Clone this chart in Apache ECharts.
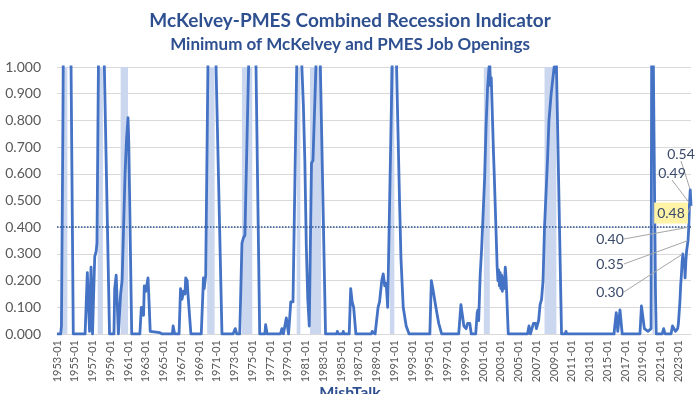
<!DOCTYPE html>
<html>
<head>
<meta charset="utf-8">
<script src="https://cdn.jsdelivr.net/npm/echarts@6/dist/echarts.min.js"></script>
<style>html,body{margin:0;padding:0;background:#fff;}#c{width:700px;height:394px;}</style>
</head>
<body>
<div id="c"></div>
<script>
// Category labels (monthly, 1953-01 .. 2024-06)
const months = [];
for (let y = 1953; y <= 2024; y++) {
  for (let m = 1; m <= 12; m++) {
    if (y === 2024 && m > 6) break;
    months.push(y + '-' + String(m).padStart(2, '0'));
  }
}

// Indicator values: [month, value]
const idx1950s = [
  ['1953-01',0],['1953-06',0],['1953-07',0.03],['1953-09',0.8],['1953-10',1.3],['1954-01',2.0],['1954-06',1.6],['1954-08',1.0],['1954-11',0],
  ['1956-03',0],['1956-06',0.23],['1956-09',0.01],['1956-11',0.25],['1957-01',0],['1957-04',0.29],['1957-06',0.31],['1957-07',0.34],['1957-09',1.0],['1957-11',1.8],['1958-03',1.8],['1958-05',1.0],['1958-12',0],
  ['1959-06',0],['1959-07',0.17],['1959-09',0.22],['1959-12',0]
];
const idx1960s = [
  ['1960-03',0.15],['1960-05',0.2],['1960-07',0.4],['1960-09',0.6],['1960-11',0.73],['1961-01',0.81],['1961-02',0.72],['1961-06',0],
  ['1962-05',0],['1962-07',0.1],['1962-10',0.07],['1962-11',0.18],['1963-01',0.16],['1963-04',0.21],['1963-05',0.15],['1963-07',0.01],['1964-08',0.005],['1964-09',0.012],['1964-11',0],
  ['1966-01',0],['1966-02',0.03],['1966-04',0],['1966-10',0],['1966-12',0.17],['1967-02',0.13],['1967-04',0.16],['1967-06',0.15],['1967-07',0.21],['1967-09',0.2],['1967-10',0.15],['1968-02',0],
  ['1969-04',0],['1969-07',0.21],['1969-08',0.17],['1969-10',0.22],['1970-01',1.0],['1970-05',2.2],['1970-09',2.0],['1970-12',1.0],['1971-08',0]
];
const idx1970s = [
  ['1972-11',0],['1973-02',0.02],['1973-04',0],['1973-08',0],['1973-11',0.34],['1974-01',0.36],['1974-03',0.37],['1974-08',1.0],['1975-01',1.6],['1975-06',1.0],['1975-11',0],
  ['1976-06',0],['1976-07',0.035],['1976-09',0],
  ['1978-03',0],['1978-05',0.02],['1978-07',0],['1978-09',0],['1978-11',0.06],['1979-02',0],['1979-05',0.12],['1979-08',0.12],['1980-01',1.0],['1980-05',1.4],['1980-08',1.0],['1980-10',0.86],['1980-12',0.65],['1981-02',0.33],['1981-04',0.13],['1981-06',0.03],['1981-09',0.64],['1981-11',0.65],['1982-03',1.0],['1982-06',1.3],['1982-09',1.0],['1983-04',0]
];
const idx1980s = [
  ['1984-07',0],['1984-08',0.01],['1984-09',0],['1985-03',0],['1985-04',0.01],['1985-05',0],['1985-12',0],['1986-02',0.17],['1986-04',0.12],['1986-06',0.1],['1986-09',0],
  ['1988-06',0],['1988-07',0.01],['1988-09',0.015],['1988-11',0],['1989-01',0],['1989-03',0.1],['1989-05',0.12],['1989-08',0.2],['1989-10',0.225],['1989-12',0.18],['1990-02',0.19],['1990-04',0.1],['1990-10',1.0],['1991-01',1.3],['1991-04',1.0],['1991-08',0.5],['1991-10',0.28],['1992-01',0.1],['1992-05',0.03],['1992-09',0]
];
const idx1990s = [
  ['1995-01',0],['1995-03',0.2],['1995-05',0.17],['1995-08',0.12],['1995-11',0.07],['1996-01',0.04],['1996-05',0],
  ['1998-04',0],['1998-07',0.11],['1998-11',0.03],['1999-02',0.02],['1999-04',0.04],['1999-07',0.04],['1999-09',0],
  ['2000-03',0],['2000-05',0.08],['2000-06',0.09],['2000-07',0.05],['2000-09',0.22],['2000-11',0.32],['2001-01',0.45],['2001-03',0.58],['2001-05',0.78],['2001-07',0.92],['2001-09',1.0],['2001-10',1.01],['2001-11',0.93],['2001-12',0.96],['2002-03',0.68],['2002-04',0.6],['2002-08',0.25],['2002-09',0.2],['2002-10',0.24],['2002-11',0.18],['2002-12',0.23],['2003-01',0.17],['2003-02',0.22],['2003-03',0.16],['2003-04',0.21],['2003-05',0.17],['2003-06',0.2],['2003-07',0.25],['2003-08',0.21],['2003-11',0]
];
const idx2000s = [
  ['2005-04',0],['2005-05',0.005],['2005-06',0],['2006-01',0],['2006-03',0.03],['2006-05',0],['2006-07',0],['2006-09',0.04],['2006-12',0.04],['2007-01',0.02],['2007-04',0.05],['2007-06',0.11],['2007-08',0.13],['2007-10',0.2],['2007-12',0.4],['2008-04',0.65],['2008-06',0.8],['2008-09',0.9],['2008-11',0.95],['2009-01',1.0],['2009-02',0.98],['2009-04',1.02],['2009-11',0]
];
const idx2010s = [
  ['2010-04',0],['2010-05',0.01],['2010-06',0],['2015-10',0],['2015-11',0.03],['2016-01',0.08],['2016-03',0.01],['2016-06',0.09],['2016-09',0],
  ['2018-09',0],['2018-11',0.105],['2019-03',0.02],['2019-08',0.01],['2019-12',0.02],['2020-01',0.02],['2020-02',2.5],['2020-03',1.05],['2020-04',0.75],['2020-05',0.45],['2020-06',0.15],['2020-07',0]
];
const idx2020s = [
  ['2021-03',0],['2021-05',0.02],['2021-07',0],['2022-03',0],['2022-05',0.03],['2022-07',0.02],['2022-09',0.01],['2022-11',0.01],['2022-12',0.02],['2023-01',0.04],['2023-02',0.08],['2023-03',0.12],['2023-04',0.18],['2023-05',0.22],['2023-06',0.27],['2023-07',0.30],['2023-08',0.26],['2023-09',0.28],['2023-10',0.21],['2023-11',0.27],['2023-12',0.31],['2024-01',0.33],['2024-02',0.35],['2024-03',0.40],['2024-04',0.49],['2024-05',0.54],['2024-06',0.48]
];

// Recession bands [start, end]
const recessions = [
  ['1953-08','1954-03'],['1957-08','1958-03'],['1960-03','1961-01'],['1969-12','1970-10'],
  ['1973-11','1975-01'],['1980-01','1980-06'],['1981-07','1982-10'],['1990-07','1991-01'],
  ['2001-02','2001-10'],['2007-12','2009-04'],['2020-02','2020-04']
];

// Threshold
const threshold = 0.4;

// Annotated points
const annoPoints = [['2023-07',0.30],['2024-02',0.35],['2024-03',0.40],['2024-06',0.48],['2024-04',0.49],['2024-05',0.54]];

// label placement (styling)
const annoLabelPos = [[610,292],[610,264],[610,239],[671,213],[672,173],[681,154]];

const indicator = [].concat(idx1950s, idx1960s, idx1970s, idx1980s, idx1990s, idx2000s, idx2010s, idx2020s);

const FONT = 'Lato, "Open Sans", sans-serif';
const chart = echarts.init(document.getElementById('c'), null, {renderer: 'canvas'});
const annData = annoPoints.map((d, i) => i === 3
  ? {value: d, label: {backgroundColor: '#fff3a8', padding: [4, 3, 3, 3]}}
  : {value: d});
chart.setOption({
  animation: false,
  backgroundColor: '#fff',
  title: [
    {text: 'McKelvey-PMES Combined Recession Indicator', left: 'center', top: 6,
     textStyle: {fontFamily: FONT, fontSize: 19, fontWeight: 'bold', color: '#2f5090'}},
    {text: 'Minimum of McKelvey and PMES Job Openings', left: 'center', top: 31,
     textStyle: {fontFamily: FONT, fontSize: 17, fontWeight: 'bold', color: '#2f5090'}}
  ],
  graphic: [{type: 'text', left: 'center', top: 385,
    style: {text: 'MishTalk', font: 'bold 16px ' + FONT, fill: '#2f5090'}}],
  grid: {left: 57, right: 9, top: 67, bottom: 60, containLabel: false},
  xAxis: {
    type: 'category', data: months, boundaryGap: false,
    axisLine: {show: true, lineStyle: {color: '#d9d9d9'}},
    axisTick: {show: false},
    axisLabel: {interval: 23, rotate: 90, fontSize: 11, color: '#595959', fontFamily: FONT, margin: 6}
  },
  yAxis: {
    type: 'value', min: 0, max: 1, interval: 0.1,
    axisLine: {show: false}, axisTick: {show: false},
    splitLine: {lineStyle: {color: '#d9d9d9', width: 1}},
    axisLabel: {formatter: v => v.toFixed(3), fontSize: 14, color: '#595959', fontFamily: FONT, margin: 16}
  },
  series: [
    {
      type: 'line', data: [], z: 1, silent: true,
      markArea: {silent: true, itemStyle: {color: '#cad7ee'},
        data: recessions.map(r => [{xAxis: r[0]}, {xAxis: r[1]}])}
    },
    {
      type: 'line', data: indicator, z: 3, showSymbol: false, symbol: 'none',
      lineStyle: {color: '#4472c4', width: 2.8, join: 'round'},
      markLine: {silent: true, symbol: 'none', label: {show: false},
        lineStyle: {color: '#2f5597', type: 'dotted', width: 1.5},
        data: [{yAxis: threshold}]}
    },
    {
      type: 'scatter', data: annData, z: 5, symbolSize: 1,
      itemStyle: {color: 'rgba(0,0,0,0)', opacity: 1},
      label: {show: true, opacity: 1, formatter: p => p.value[1].toFixed(2), fontSize: 14, color: '#3a4a6a', fontFamily: FONT},
      labelLine: {show: true, lineStyle: {color: '#a6a6a6', width: 1, opacity: 1}},
      labelLayout: function (p) {
        const pos = annoLabelPos[p.dataIndex];
        return {x: pos[0], y: pos[1], align: 'center', verticalAlign: 'middle'};
      },
      emphasis: {disabled: true}
    }
  ]
});
</script>
</body>
</html>
